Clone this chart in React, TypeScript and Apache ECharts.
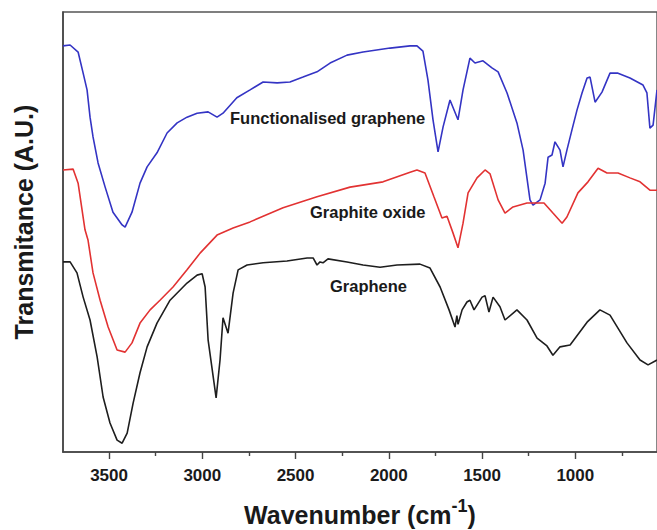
import React, { useEffect, useRef } from "react";
import * as echarts from "echarts";

// Wavenumber (cm-1) vs transmittance (arbitrary units)
const functionalisedGraphene: [number, number][] = [
  [3747, 92.3], [3709, 92.5], [3666, 90.9], [3639, 86.1], [3618, 82.3], [3602, 76.1],
  [3586, 71.6], [3559, 65.7], [3521, 60.2], [3479, 54.5], [3430, 51.6], [3414, 51.1],
  [3377, 54.5], [3334, 61.1], [3296, 64.8], [3243, 68.0], [3189, 72.5], [3135, 74.8],
  [3082, 76.1], [3028, 77.0], [2969, 77.3], [2921, 76.1], [2889, 77.0], [2815, 80.5],
  [2744, 82.3], [2674, 84.1], [2599, 83.9], [2530, 84.1], [2460, 85.2], [2385, 86.4],
  [2315, 88.4], [2224, 90.2], [2138, 90.9], [1993, 91.8], [1886, 92.3], [1849, 92.3],
  [1817, 91.1], [1790, 84.5], [1763, 75.5], [1736, 68.2], [1709, 73.9], [1672, 80.0],
  [1629, 75.5], [1602, 82.3], [1565, 89.5], [1538, 88.4], [1495, 88.9], [1447, 87.3],
  [1414, 86.4], [1366, 81.6], [1313, 74.8], [1280, 68.6], [1243, 57.3], [1227, 56.1],
  [1189, 57.3], [1162, 61.1], [1146, 67.0], [1125, 67.5], [1109, 70.5], [1082, 68.6],
  [1066, 64.8], [1045, 68.6], [1018, 73.2], [991, 77.7], [964, 81.6], [937, 85.0],
  [921, 85.2], [894, 79.5], [857, 81.8], [814, 86.1], [771, 86.1], [707, 85.0],
  [637, 83.4], [616, 81.6], [600, 73.6], [583, 74.3], [562, 82.3],
];

const graphiteOxide: [number, number][] = [
  [3747, 64.1], [3693, 64.3], [3666, 61.1], [3629, 50.5], [3613, 48.2], [3586, 40.7],
  [3548, 34.5], [3505, 28.4], [3457, 23.2], [3414, 22.7], [3377, 24.8], [3334, 29.3],
  [3280, 32.3], [3227, 34.5], [3157, 37.5], [3082, 41.4], [3012, 45.2], [2921, 49.3],
  [2835, 50.9], [2744, 52.3], [2567, 55.5], [2385, 58.0], [2208, 60.2], [2031, 61.4],
  [1886, 63.6], [1849, 64.1], [1806, 63.4], [1758, 58.0], [1715, 53.2], [1688, 53.6],
  [1656, 49.8], [1629, 46.4], [1602, 52.0], [1575, 58.9], [1527, 62.3], [1484, 64.1],
  [1457, 63.2], [1414, 57.3], [1377, 54.3], [1334, 55.7], [1259, 56.6], [1168, 56.6],
  [1120, 54.3], [1071, 52.0], [1045, 53.4], [986, 58.9], [932, 61.4], [878, 64.5],
  [830, 63.4], [771, 63.4], [707, 62.3], [653, 61.4], [600, 59.5], [562, 59.5],
];

const graphene: [number, number][] = [
  [3747, 43.2], [3709, 43.2], [3672, 40.7], [3639, 35.2], [3602, 30.0], [3564, 21.6],
  [3532, 12.5], [3495, 6.6], [3457, 2.7], [3430, 2.0], [3403, 4.3], [3371, 11.1],
  [3334, 18.0], [3296, 23.9], [3243, 29.3], [3173, 34.5], [3082, 38.4], [3028, 40.2],
  [3001, 40.5], [2985, 37.5], [2969, 25.5], [2926, 12.3], [2905, 20.9], [2889, 30.5],
  [2862, 27.0], [2835, 36.1], [2808, 41.4], [2760, 42.5], [2674, 43.0], [2546, 43.4],
  [2438, 44.1], [2406, 44.1], [2385, 42.5], [2369, 43.2], [2353, 43.0], [2326, 43.9],
  [2224, 43.2], [2138, 42.5], [2047, 42.0], [1956, 42.5], [1833, 42.7], [1779, 41.8],
  [1725, 37.5], [1677, 32.3], [1645, 28.4], [1635, 31.0], [1629, 29.0], [1607, 32.3],
  [1581, 34.1], [1565, 34.5], [1543, 32.3], [1500, 35.2], [1484, 35.5], [1463, 31.8],
  [1441, 35.2], [1404, 33.0], [1377, 30.0], [1313, 32.3], [1259, 30.0], [1205, 25.9],
  [1152, 24.1], [1120, 22.0], [1082, 23.9], [1028, 24.3], [937, 29.5], [868, 32.3],
  [814, 31.1], [723, 24.8], [653, 20.9], [610, 19.8], [562, 20.9],
];

const majorTicks = [1000, 1500, 2000, 2500, 3000, 3500];
const minorTicks = [750, 1250, 1750, 2250, 2750, 3250];
const xMin = 562;
const xMax = 3747;

const FONT = '"Liberation Sans", Arial, Helvetica, sans-serif';
const AXIS_COLOR = "#444";
const TEXT_COLOR = "#1a1a1a";

export default function App() {
  const ref = useRef<HTMLDivElement>(null);

  useEffect(() => {
    if (!ref.current) return;
    const chart = echarts.init(ref.current, undefined, { renderer: "svg" });
    const lineSeries = (name: string, data: [number, number][], color: string) => ({
      name,
      type: "line",
      data,
      showSymbol: false,
      symbol: "none",
      smooth: false,
      lineStyle: { color, width: 1.6 },
      itemStyle: { color },
      xAxisIndex: 0,
      yAxisIndex: 0,
    });
    chart.setOption({
      animation: false,
      grid: {
        left: 63,
        top: 12,
        right: 0,
        bottom: 78,
        show: true,
        borderColor: "#555",
        borderWidth: 1.4,
        backgroundColor: "transparent",
      },
      xAxis: [
        {
          type: "value",
          inverse: true,
          min: xMin,
          max: xMax,
          position: "bottom",
          axisLine: { show: true, lineStyle: { color: AXIS_COLOR, width: 1.6 } },
          axisTick: {
            show: true,
            customValues: majorTicks,
            length: 7,
            inside: false,
            lineStyle: { color: AXIS_COLOR, width: 1.4 },
          },
          axisLabel: {
            customValues: majorTicks,
            formatter: (v: number) => String(v),
            margin: 15,
            fontFamily: FONT,
            fontWeight: "bold",
            fontSize: 17,
            color: TEXT_COLOR,
          },
          splitLine: { show: false },
        },
        {
          type: "value",
          inverse: true,
          min: xMin,
          max: xMax,
          position: "bottom",
          axisLine: { show: false },
          axisTick: {
            show: true,
            customValues: minorTicks,
            length: 4,
            inside: false,
            lineStyle: { color: AXIS_COLOR, width: 1.4 },
          },
          axisLabel: { show: false },
          splitLine: { show: false },
        },
      ],
      yAxis: {
        type: "value",
        min: 0,
        max: 100,
        axisLine: { show: true, lineStyle: { color: AXIS_COLOR, width: 1.6 } },
        axisTick: { show: false },
        axisLabel: { show: false },
        splitLine: { show: false },
      },
      series: [
        lineSeries("Functionalised graphene", functionalisedGraphene, "#3434c4"),
        lineSeries("Graphite oxide", graphiteOxide, "#e23232"),
        lineSeries("Graphene", graphene, "#1e1e1e"),
      ],
      graphic: [
        {
          type: "text",
          x: 24,
          y: 222,
          rotation: Math.PI / 2,
          style: {
            text: "Transmitance (A.U.)",
            font: `bold 25px ${FONT}`,
            fill: TEXT_COLOR,
            align: "center",
            verticalAlign: "middle",
          },
        },
        {
          type: "text",
          x: 360,
          y: 515,
          style: {
            text: "{m|Wavenumber (cm}{s|-1}{m|)}",
            fill: TEXT_COLOR,
            align: "center",
            verticalAlign: "middle",
            rich: {
              m: {
                fontFamily: FONT,
                fontWeight: "bold",
                fontSize: 25,
                lineHeight: 36,
                fill: TEXT_COLOR,
              },
              s: {
                fontFamily: FONT,
                fontWeight: "bold",
                fontSize: 18,
                lineHeight: 16,
                verticalAlign: "top",
                fill: TEXT_COLOR,
              },
            },
          },
        },
        {
          type: "text",
          x: 230,
          y: 118,
          style: {
            text: "Functionalised graphene",
            font: `bold 16.5px ${FONT}`,
            fill: TEXT_COLOR,
            align: "left",
            verticalAlign: "middle",
          },
        },
        {
          type: "text",
          x: 310,
          y: 212,
          style: {
            text: "Graphite oxide",
            font: `bold 16.5px ${FONT}`,
            fill: TEXT_COLOR,
            align: "left",
            verticalAlign: "middle",
          },
        },
        {
          type: "text",
          x: 330,
          y: 286,
          style: {
            text: "Graphene",
            font: `bold 16.5px ${FONT}`,
            fill: TEXT_COLOR,
            align: "left",
            verticalAlign: "middle",
          },
        },
      ],
    });
    return () => chart.dispose();
  }, []);

  return (
    <div
      ref={ref}
      style={{ position: "fixed", left: 0, top: 0, width: 657, height: 530, background: "#fff" }}
    />
  );
}
